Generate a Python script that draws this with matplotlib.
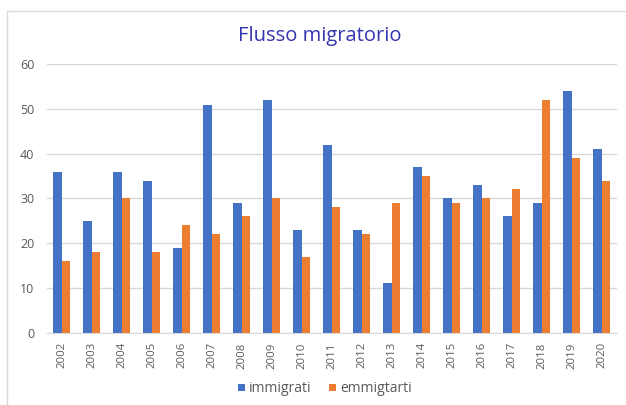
import matplotlib
matplotlib.use("Agg")
import matplotlib.pyplot as plt
import numpy as np
from matplotlib.patches import Rectangle

years = ["2002", "2003", "2004", "2005", "2006", "2007", "2008", "2009", "2010",
         "2011", "2012", "2013", "2014", "2015", "2016", "2017", "2018", "2019", "2020"]
immigrati = [36, 25, 36, 34, 19, 51, 29, 52, 23, 42, 23, 11, 37, 30, 33, 26, 29, 54, 41]
emmigrati = [16, 18, 30, 18, 24, 22, 26, 30, 17, 28, 22, 29, 35, 29, 30, 32, 52, 39, 34]

plt.rcParams['font.family'] = ['Open Sans', 'DejaVu Sans']

W, H = 626, 405
fig = plt.figure(figsize=(W / 100, H / 100), dpi=100)

# chart frame
fig.patches.append(Rectangle((6.7 / W, -0.1), 2.0, 1 - 11 / H + 0.1,
                             transform=fig.transFigure, fill=False,
                             edgecolor="#d9d9d9", linewidth=1))

ax = fig.add_axes([46.7 / W, 1 - 332.5 / H, 570 / W, 268.2 / H])
x = np.arange(len(years))
w = 0.29
ax.bar(x - w / 2, immigrati, w, color="#4472C4", label="immigrati")
ax.bar(x + w / 2, emmigrati, w, color="#ED7D31", label="emmigtarti")

ax.set_xlim(-0.5, len(years) - 0.5)
ax.set_ylim(0, 60)
ax.set_yticks(range(0, 61, 10))
ax.yaxis.grid(True, color="#d9d9d9", linewidth=1)
ax.set_axisbelow(True)
for s in ["top", "right", "left"]:
    ax.spines[s].set_visible(False)
ax.spines["bottom"].set_color("#d9d9d9")
ax.tick_params(axis="both", length=0, colors="#595959")
ax.tick_params(axis="y", pad=9, labelsize=9)
ax.tick_params(axis="x", pad=7, labelsize=8.2)
ax.set_xticks(x)
ax.set_xticklabels(years, rotation=90)

fig.text(320 / W, 1 - 40.5 / H, "Flusso migratorio", ha="center", va="baseline",
         fontsize=14.5, color="#3535B0")

ax.legend(loc="center", bbox_to_anchor=(325 / W, 1 - 389 / H),
          bbox_transform=fig.transFigure, ncol=2, frameon=False, fontsize=10,
          handlelength=0.45, handleheight=0.45, handletextpad=0.3, columnspacing=1.3,
          labelcolor="#595959", borderpad=0, borderaxespad=0)

fig.savefig("out.png", dpi=100)
